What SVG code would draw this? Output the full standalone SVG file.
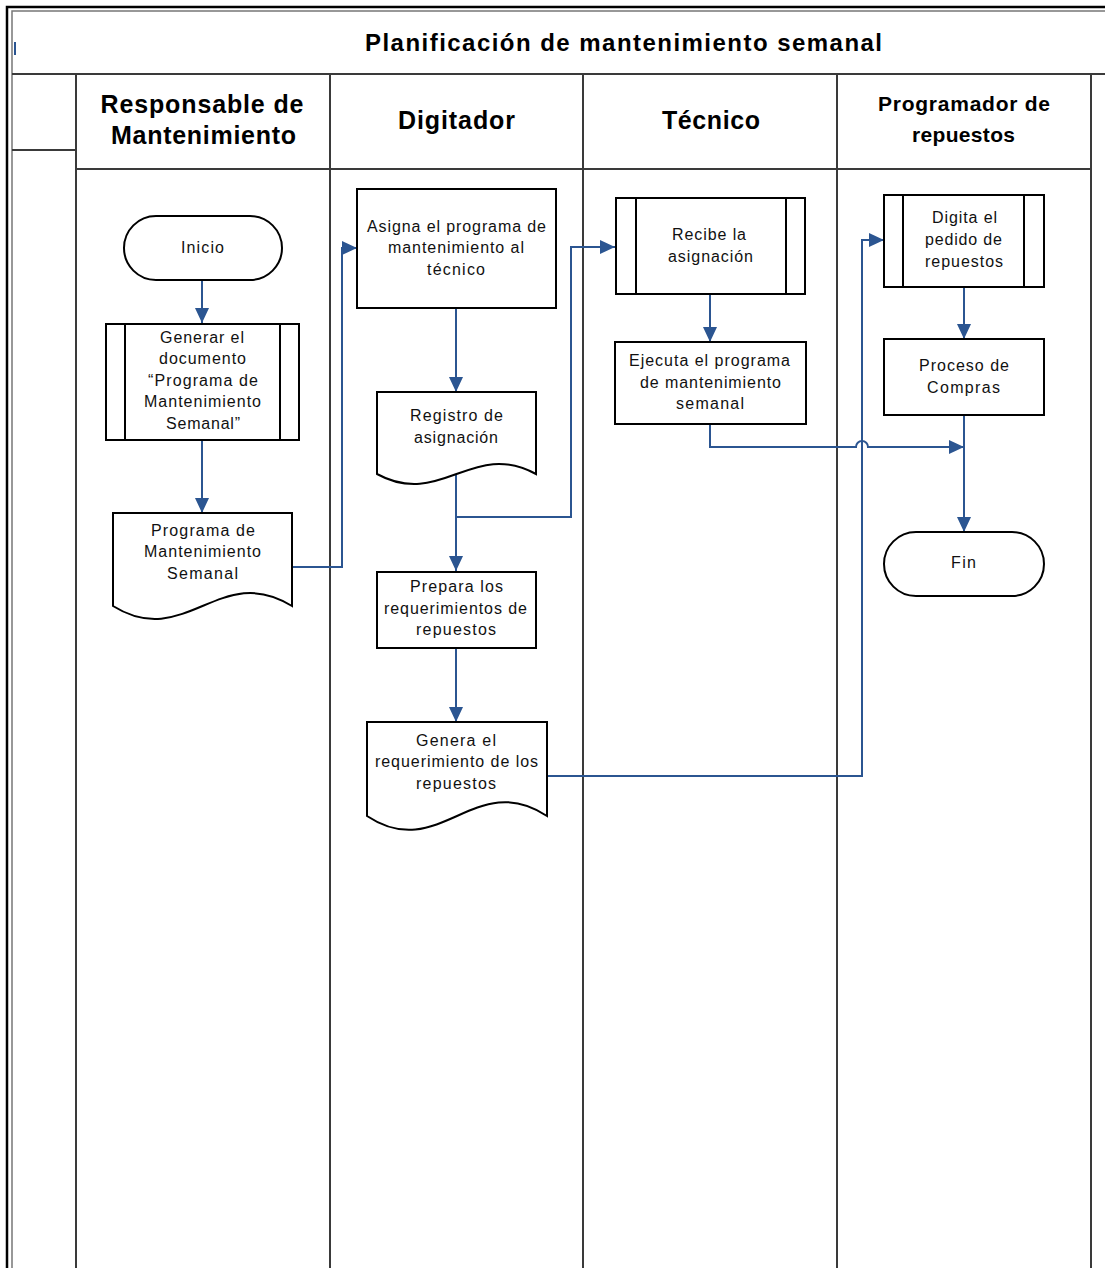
<svg xmlns="http://www.w3.org/2000/svg" width="1105" height="1268" viewBox="0 0 1105 1268">
  <style>
    .frame { fill: none; stroke: #3a3a3a; stroke-width: 2; }
    .outer { fill: none; stroke: #000; stroke-width: 2.5; }
    .inner { fill: none; stroke: #777; stroke-width: 1.5; }
    .shape { fill: #fff; stroke: #000; stroke-width: 2; }
    .bar { fill: none; stroke: #000; stroke-width: 2; }
    .flow { fill: none; stroke: #2B5591; stroke-width: 2; }
    .title { font-family: "Liberation Sans", Arial, sans-serif; font-weight: bold; font-size: 24px; fill: #000; text-anchor: middle; }
    .lane { font-family: "Liberation Sans", Arial, sans-serif; font-weight: bold; font-size: 25px; fill: #000; text-anchor: middle; }
    .lane-sm { font-family: "Liberation Sans", Arial, sans-serif; font-weight: bold; font-size: 21px; fill: #000; text-anchor: middle; }
    .label { font-family: "Liberation Sans", Arial, sans-serif; font-size: 16px; fill: #111; text-anchor: middle; }
  </style>
  <defs>
    <marker id="arrow" markerUnits="userSpaceOnUse" markerWidth="15" markerHeight="14" refX="15" refY="7" orient="auto">
      <path d="M0,0 L15,7 L0,14 Z" fill="#2B5591"/>
    </marker>
  </defs>

  <rect width="1105" height="1268" fill="#fff"/>

  <!-- page frame -->
  <g id="frame">
    <path class="outer" d="M7,1268 V7 H1105"/>
    <path class="inner" d="M12,1268 V11 H1105"/>
    <rect x="14" y="42" width="2" height="13" fill="#2B5591"/>
    <path class="frame" d="M12,74 H1105"/>
    <path class="frame" d="M12,150 H76"/>
    <path class="frame" d="M76,169 H1091"/>
    <path class="frame" d="M76,74 V1268 M330,74 V1268 M583,74 V1268 M837,74 V1268 M1091,74 V1268"/>
  </g>

  <!-- title and lane headers -->
  <g id="headers">
    <text class="title" x="623.5" y="51" textLength="517" lengthAdjust="spacing">Planificación de mantenimiento semanal</text>
    <text class="lane" x="202" y="113" textLength="203" lengthAdjust="spacing">Responsable de</text>
    <text class="lane" x="203.5" y="144" textLength="185" lengthAdjust="spacing">Mantenimiento</text>
    <text class="lane" x="456.5" y="129" textLength="117" lengthAdjust="spacing">Digitador</text>
    <text class="lane" x="711" y="129" textLength="98" lengthAdjust="spacing">Técnico</text>
    <text class="lane-sm" x="964" y="111" textLength="172" lengthAdjust="spacing">Programador de</text>
    <text class="lane-sm" x="963.5" y="142" textLength="103" lengthAdjust="spacing">repuestos</text>
  </g>

  <!-- connectors -->
  <g id="connectors">
    <path class="flow" marker-end="url(#arrow)" d="M202,280 V323"/>
    <path class="flow" marker-end="url(#arrow)" d="M202,440 V513"/>
    <path class="flow" marker-end="url(#arrow)" d="M292,567 H342 V248 H357"/>
    <path class="flow" marker-end="url(#arrow)" d="M456,308 V392"/>
    <path class="flow" marker-end="url(#arrow)" d="M456,474 V571"/>
    <path class="flow" marker-end="url(#arrow)" d="M456,517 H571 V247 H615"/>
    <path class="flow" marker-end="url(#arrow)" d="M710,294 V342"/>
    <path class="flow" marker-end="url(#arrow)" d="M456,648 V722"/>
    <path class="flow" marker-end="url(#arrow)" d="M547,776 H862 V240 H884"/>
    <path class="flow" marker-end="url(#arrow)" d="M964,287 V339"/>
    <path class="flow" marker-end="url(#arrow)" d="M710,424 V447 H856 A6,6 0 0 1 868,447 H964"/>
    <path class="flow" marker-end="url(#arrow)" d="M964,415 V532"/>
  </g>

  <!-- Responsable de Mantenimiento -->
  <g id="inicio">
    <rect class="shape" x="124" y="216" width="158" height="64" rx="32" ry="32"/>
    <text class="label" x="202.5" y="253" textLength="43" lengthAdjust="spacing">Inicio</text>
  </g>
  <g id="generar-documento">
    <rect class="shape" x="106" y="324" width="193" height="116"/>
    <path class="bar" d="M125,324 V440 M280,324 V440"/>
    <text class="label" x="202" y="343" textLength="84" lengthAdjust="spacing">Generar el</text>
    <text class="label" x="202.5" y="364" textLength="87" lengthAdjust="spacing">documento</text>
    <text class="label" x="203" y="386" textLength="110" lengthAdjust="spacing">“Programa de</text>
    <text class="label" x="202.5" y="407" textLength="117" lengthAdjust="spacing">Mantenimiento</text>
    <text class="label" x="203" y="429" textLength="74" lengthAdjust="spacing">Semanal”</text>
  </g>
  <g id="programa-semanal">
    <path class="shape" d="M113,513 H292 V606 C220,561 185,651 113,606 Z"/>
    <text class="label" x="203" y="536" textLength="104" lengthAdjust="spacing">Programa de</text>
    <text class="label" x="202.5" y="557" textLength="117" lengthAdjust="spacing">Mantenimiento</text>
    <text class="label" x="202.5" y="579" textLength="71" lengthAdjust="spacing">Semanal</text>
  </g>

  <!-- Digitador -->
  <g id="asigna-programa">
    <rect class="shape" x="357" y="189" width="199" height="119"/>
    <text class="label" x="456.5" y="232" textLength="179" lengthAdjust="spacing">Asigna el programa de</text>
    <text class="label" x="456" y="253" textLength="136" lengthAdjust="spacing">mantenimiento al</text>
    <text class="label" x="456" y="275" textLength="58" lengthAdjust="spacing">técnico</text>
  </g>
  <g id="registro-asignacion">
    <path class="shape" d="M377,392 H536 V474 C472,439 441,509 377,474 Z"/>
    <text class="label" x="456.5" y="421" textLength="93" lengthAdjust="spacing">Registro de</text>
    <text class="label" x="456" y="443" textLength="84" lengthAdjust="spacing">asignación</text>
  </g>
  <g id="prepara-requerimientos">
    <rect class="shape" x="377" y="572" width="159" height="76"/>
    <text class="label" x="456.5" y="592" textLength="93" lengthAdjust="spacing">Prepara los</text>
    <text class="label" x="455.5" y="614" textLength="143" lengthAdjust="spacing">requerimientos de</text>
    <text class="label" x="456" y="635" textLength="80" lengthAdjust="spacing">repuestos</text>
  </g>
  <g id="genera-requerimiento">
    <path class="shape" d="M367,722 H547 V816 C475,768 439,864 367,816 Z"/>
    <text class="label" x="456" y="746" textLength="80" lengthAdjust="spacing">Genera el</text>
    <text class="label" x="456.5" y="767" textLength="163" lengthAdjust="spacing">requerimiento de los</text>
    <text class="label" x="456" y="789" textLength="80" lengthAdjust="spacing">repuestos</text>
  </g>

  <!-- Técnico -->
  <g id="recibe-asignacion">
    <rect class="shape" x="616" y="198" width="189" height="96"/>
    <path class="bar" d="M636,198 V294 M786,198 V294"/>
    <text class="label" x="709" y="240" textLength="74" lengthAdjust="spacing">Recibe la</text>
    <text class="label" x="710.5" y="262" textLength="85" lengthAdjust="spacing">asignación</text>
  </g>
  <g id="ejecuta-programa">
    <rect class="shape" x="615" y="342" width="191" height="82"/>
    <text class="label" x="709.5" y="366" textLength="161" lengthAdjust="spacing">Ejecuta el programa</text>
    <text class="label" x="710.5" y="388" textLength="141" lengthAdjust="spacing">de mantenimiento</text>
    <text class="label" x="710" y="409" textLength="68" lengthAdjust="spacing">semanal</text>
  </g>

  <!-- Programador de repuestos -->
  <g id="digita-pedido">
    <rect class="shape" x="884" y="195" width="160" height="92"/>
    <path class="bar" d="M903,195 V287 M1024,195 V287"/>
    <text class="label" x="964.5" y="223" textLength="65" lengthAdjust="spacing">Digita el</text>
    <text class="label" x="963.5" y="245" textLength="77" lengthAdjust="spacing">pedido de</text>
    <text class="label" x="964" y="267" textLength="78" lengthAdjust="spacing">repuestos</text>
  </g>
  <g id="proceso-compras">
    <rect class="shape" x="884" y="339" width="160" height="76"/>
    <text class="label" x="964" y="371" textLength="90" lengthAdjust="spacing">Proceso de</text>
    <text class="label" x="963.5" y="393" textLength="73" lengthAdjust="spacing">Compras</text>
  </g>
  <g id="fin">
    <rect class="shape" x="884" y="532" width="160" height="64" rx="32" ry="32"/>
    <text class="label" x="963.5" y="568" textLength="25" lengthAdjust="spacing">Fin</text>
  </g>
</svg>
